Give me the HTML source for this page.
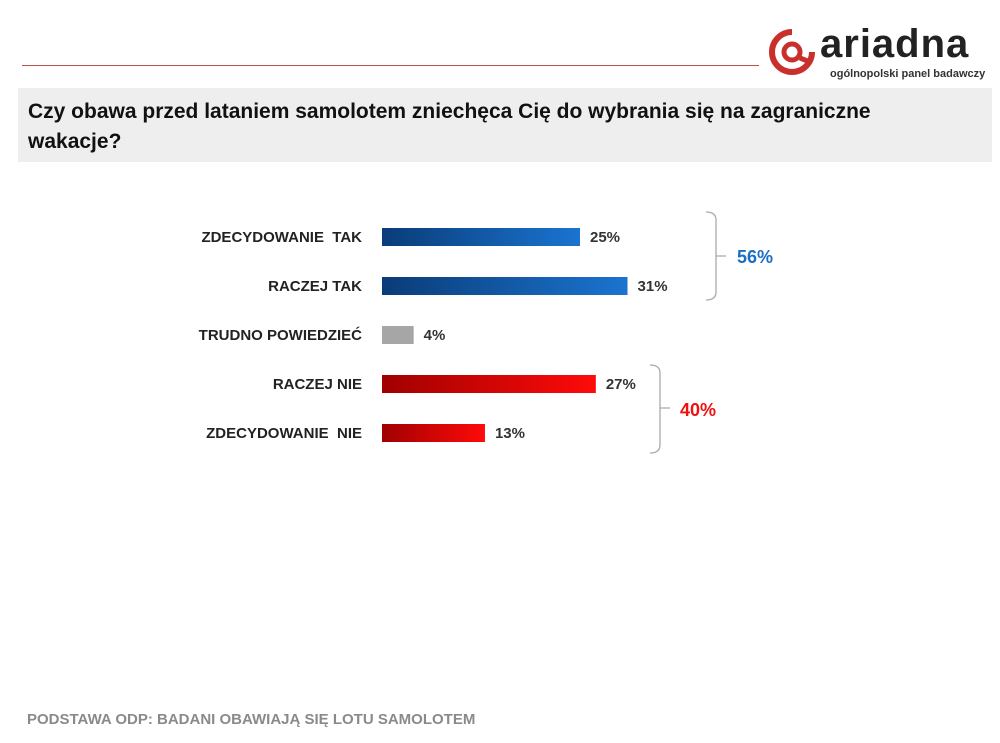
<!DOCTYPE html>
<html><head><meta charset="utf-8"><style>
body{margin:0;width:1000px;height:743px;background:#fff;position:relative;overflow:hidden;font-family:"Liberation Sans",sans-serif}
.abs{position:absolute}
</style></head><body>
<div class="abs" style="left:22px;top:65px;width:737px;height:1px;background:#c0504d"></div>
<div class="abs" style="left:768px;top:26px;width:225px;height:58px">
<svg width="48" height="48" style="position:absolute;left:0;top:2px" viewBox="0 0 48 48"><path d="M24 4 A20 20 0 1 0 44 24" fill="none" stroke="#c9302c" stroke-width="6"/><circle cx="24" cy="24" r="8" fill="none" stroke="#c9302c" stroke-width="5"/><path d="M32 30 L42 34" stroke="#c9302c" stroke-width="5"/></svg>
<div class="abs" style="left:52px;top:-4px;font-size:40px;font-weight:bold;color:#222;letter-spacing:1px">ariadna</div>
<div class="abs" style="left:62px;top:42px;font-size:11px;font-weight:bold;color:#333">ogólnopolski panel badawczy</div>
</div>
<div class="abs" style="left:18px;top:88px;width:974px;height:74px;background:#eeeeee"></div>
<div class="abs" style="left:28px;top:97px;width:890px;font-size:21px;font-weight:bold;color:#111;line-height:30px">Czy obawa przed lataniem samolotem zniechęca Cię do wybrania się na zagraniczne wakacje?</div>
<svg class="abs" style="left:0;top:0" width="1000" height="743">
<defs>
<linearGradient id="gb" x1="0" x2="1"><stop offset="0" stop-color="#0a3c78"/><stop offset="1" stop-color="#1a74d0"/></linearGradient>
<linearGradient id="gr" x1="0" x2="1"><stop offset="0" stop-color="#a00000"/><stop offset="1" stop-color="#ff0a0a"/></linearGradient>
</defs>
<g id="bars"></g>
<path d="M706 212 Q716 212 716 220 L716 292 Q716 300 706 300 M716 256 L726 256" fill="none" stroke="#aaa" stroke-width="1.3"/>
<text x="737" y="263" font-size="18" font-weight="bold" fill="#1a6fc4">56%</text>
<path d="M650 365 Q660 365 660 373 L660 445 Q660 453 650 453 M660 408 L670 408" fill="none" stroke="#aaa" stroke-width="1.3"/>
<text x="680" y="416" font-size="18" font-weight="bold" fill="#ee1111">40%</text>
</svg>
<div class="abs" style="left:27px;top:711px;font-size:15px;font-weight:bold;color:#8a8a8a">PODSTAWA ODP: BADANI OBAWIAJĄ SIĘ LOTU SAMOLOTEM</div>
<script>
const categories=["ZDECYDOWANIE  TAK","RACZEJ TAK","TRUDNO POWIEDZIEĆ","RACZEJ NIE","ZDECYDOWANIE  NIE"];
const values=[25,31,4,27,13];
const fills=["url(#gb)","url(#gb)","#a6a6a6","url(#gr)","url(#gr)"];
const g=document.getElementById('bars');
const NS="http://www.w3.org/2000/svg";
const x0=382,pxPer=7.92,y0=237,step=49,h=18;
const xs=v=>v*pxPer, ys=i=>y0+i*step;
values.forEach((v,i)=>{
 const r=document.createElementNS(NS,'rect');
 r.setAttribute('x',x0);r.setAttribute('y',ys(i)-h/2);r.setAttribute('width',xs(v));r.setAttribute('height',h);r.setAttribute('fill',fills[i]);
 
 
 g.appendChild(r);
 const t=document.createElementNS(NS,'text');
 t.setAttribute('x',x0+xs(v)+10);t.setAttribute('y',ys(i)+5);t.setAttribute('font-size','15');t.setAttribute('font-weight','bold');t.setAttribute('fill','#333');
 t.textContent=v+'%';
 
 
 g.appendChild(t);
 const c=document.createElementNS(NS,'text');
 c.setAttribute('x',362);c.setAttribute('y',ys(i)+5);c.setAttribute('text-anchor','end');c.setAttribute('font-size','15');c.setAttribute('font-weight','bold');c.setAttribute('fill','#222');c.style.whiteSpace='pre';
 c.textContent=categories[i];
 
 
 g.appendChild(c);
});
</script>
</body></html>
